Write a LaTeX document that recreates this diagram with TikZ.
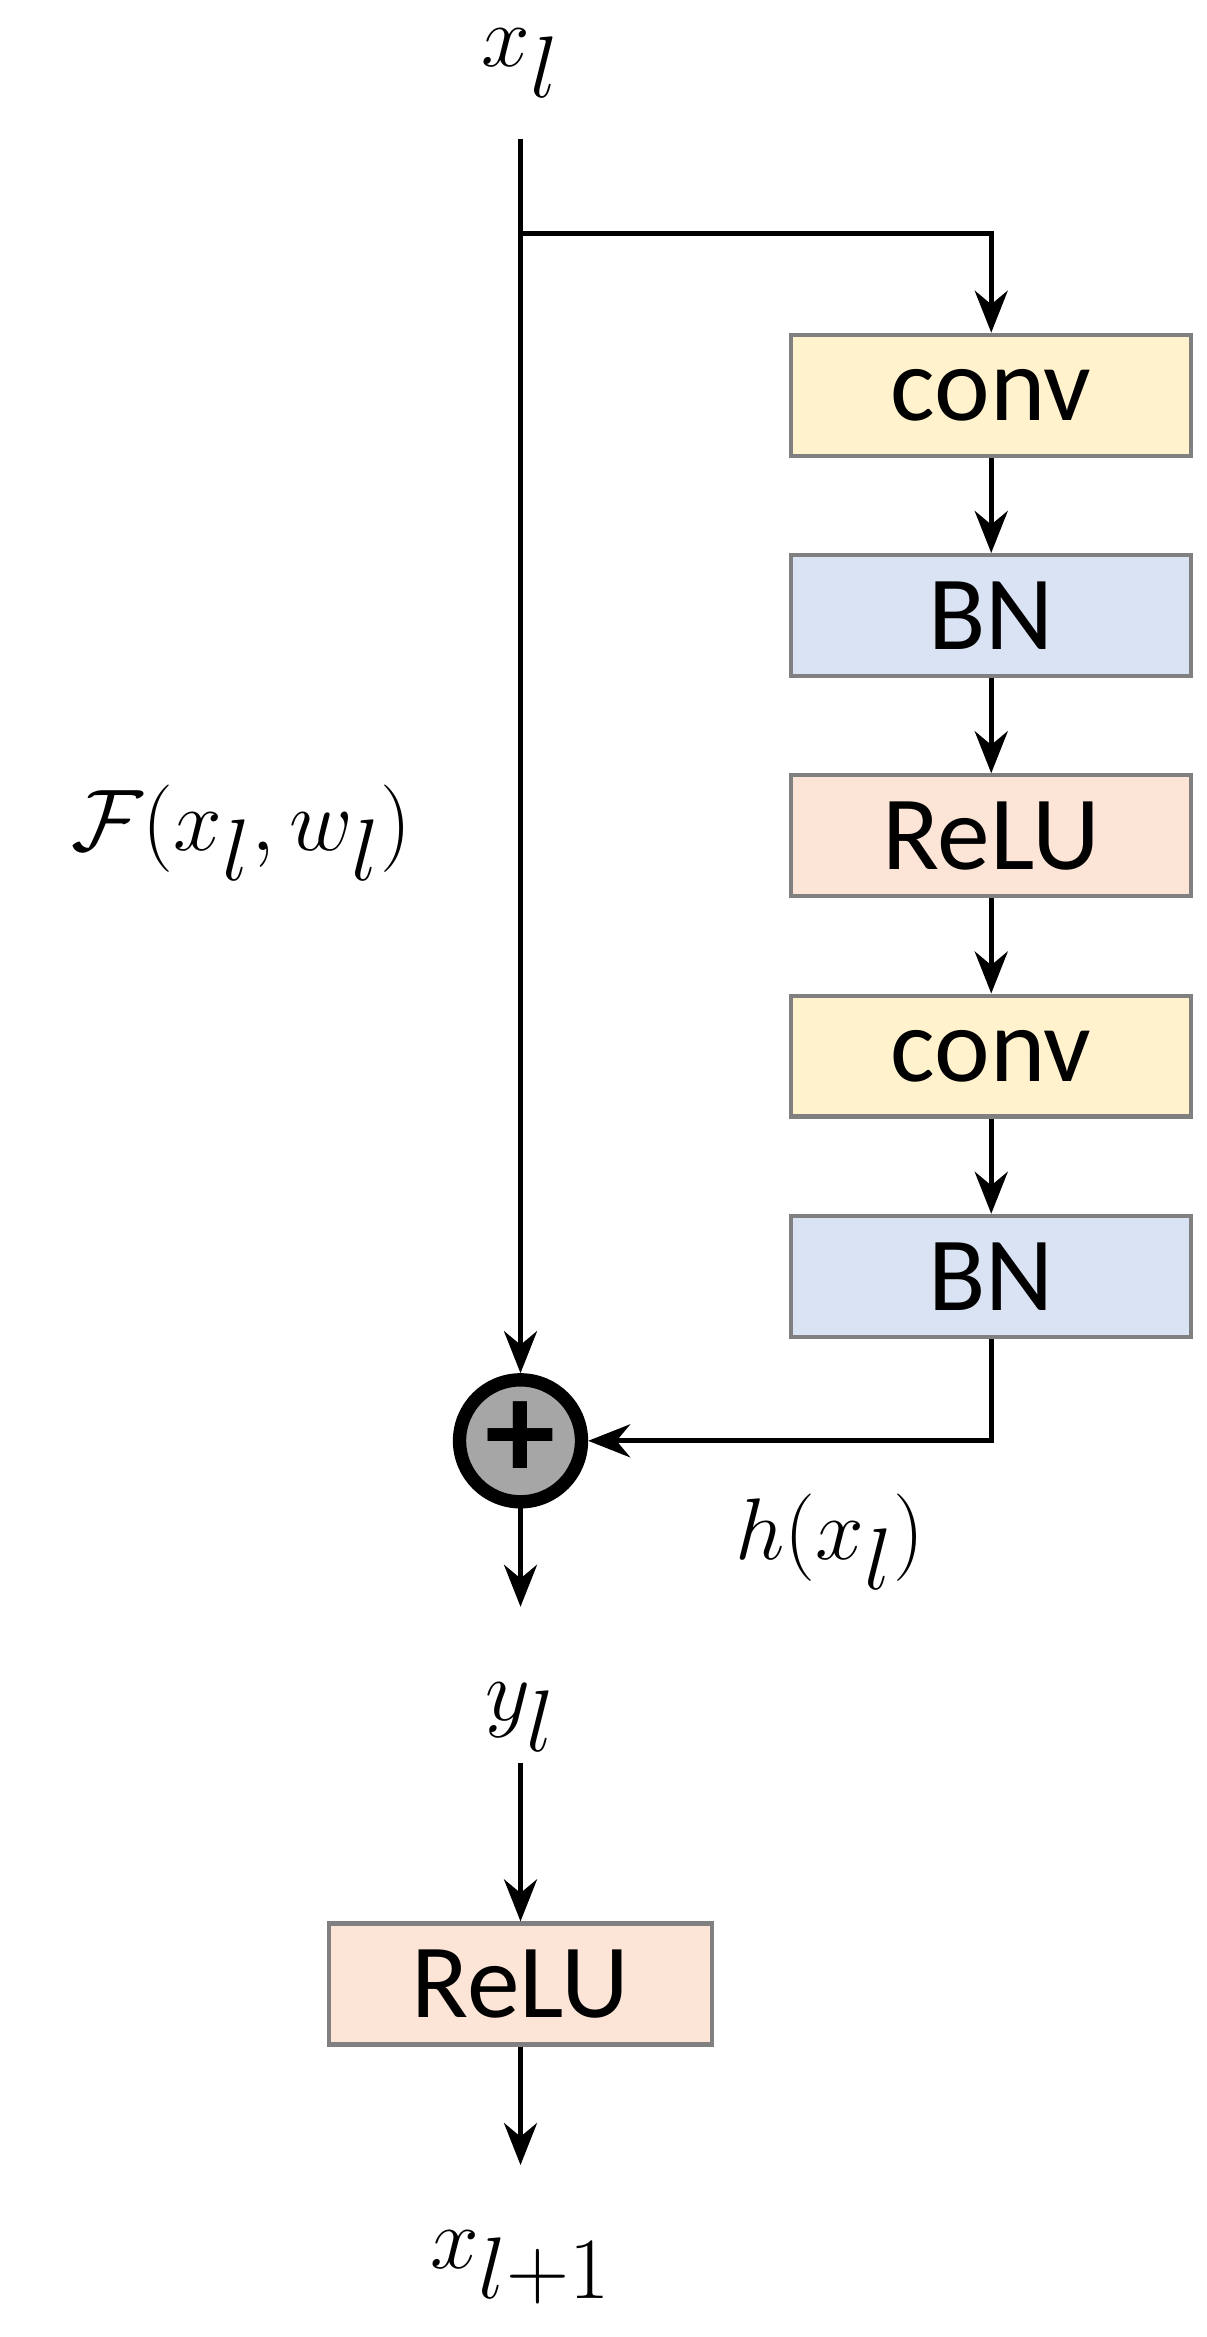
\documentclass[tikz,border=0pt]{standalone}
\usepackage{amsmath}
\usepackage{fontspec}
\setmainfont{Carlito}
\usetikzlibrary{arrows.meta}
\definecolor{convyel}{RGB}{255,242,204}
\definecolor{bnblue}{RGB}{218,227,243}
\definecolor{reluor}{RGB}{252,228,214}
\tikzstyle{layer} = [rectangle, minimum width=4cm, minimum height=1.21cm, text centered, draw=black!50, line width=1.2pt, font=\fontsize{30}{36}\selectfont]
\tikzstyle{arrow} = [line width=1.4pt,-{Stealth[length=0.42cm,width=0.33cm]}]
\tikzstyle{lbl} = [font=\fontsize{50}{56}\selectfont]

\begin{document}
\begin{tikzpicture}
				[x=0.01509cm, y=-0.01509cm]
				\useasboundingbox (0,0) rectangle (800,1549);

				\node (xin) [lbl] at (345,42) {$x_l$};
				\coordinate (top) at (345,92);
				\coordinate (split) at (345,155);
				\coordinate (turn) at (657,155);
				\node (conva) [layer, fill=convyel] at (657,262) {conv};
				\node (bna) [layer, fill=bnblue] at (657,408) {BN};
				\node (relua) [layer, fill=reluor] at (657,554) {ReLU};
				\node (convb) [layer, fill=convyel] at (657,700) {conv};
				\node (bnb) [layer, fill=bnblue] at (657,846) {BN};
				\node (add) [circle, draw=black, line width=3.8pt, fill=black!35, minimum size=1.22cm] at (345,955) {};
				\node (plus) [font=\bfseries\fontsize{40}{40}\selectfont] at (add) {+};
				\coordinate (back) at (657,955);
				\coordinate (yend) at (345,1065);
				\node (F) [lbl] at (160,552) {$\mathcal{F}(x_l,w_l)$};
				\node (h) [lbl] at (550,1022) {$h(x_l)$};
				\node (yout) [lbl] at (345,1138) {$y_l$};
				\node (relub) [layer, minimum width=3.83cm, fill=reluor] at (345,1315) {ReLU};
				\coordinate (xend) at (345,1435);
				\node (xout) [lbl] at (345,1503) {$x_{l+1}$};

				\draw [arrow] (top) -- (add);
				\draw [arrow] (split) -- (turn) -- (conva);
				\draw [arrow] (conva) -- (bna);
				\draw [arrow] (bna) -- (relua);
				\draw [arrow] (relua) -- (convb);
				\draw [arrow] (convb) -- (bnb);
				\draw [arrow] (bnb) -- (back) -- (add);
				\draw [arrow] (add) -- (yend);
				\draw [arrow] (yout) -- (relub);
				\draw [arrow] (relub) -- (xend);
			\end{tikzpicture}
\end{document}
